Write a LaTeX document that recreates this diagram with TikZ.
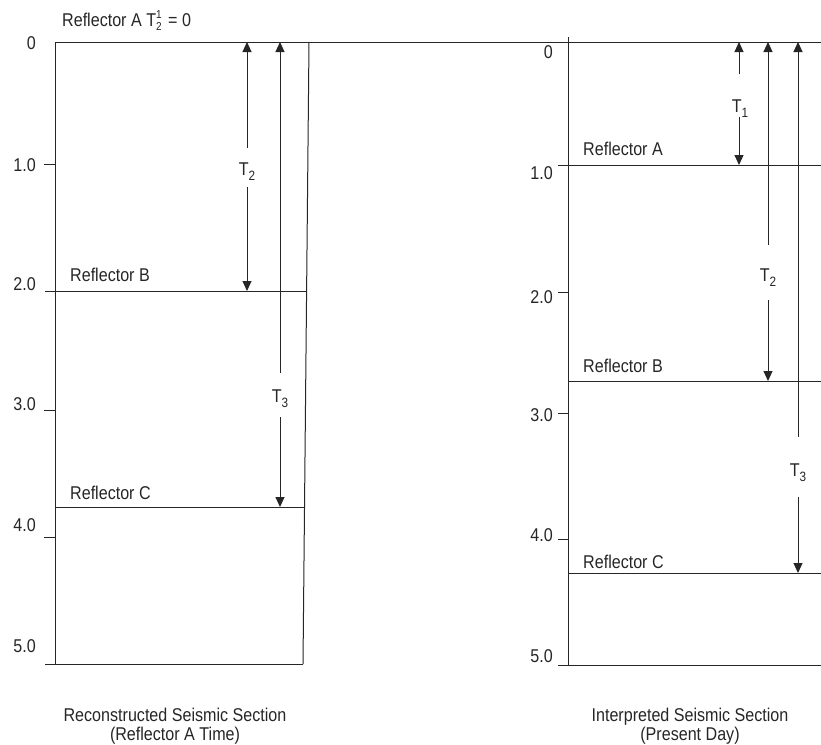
\documentclass[tikz,border=0pt]{standalone}
\usepackage{fontspec}
\setmainfont{Liberation Sans}[FakeStretch=0.87]
\usetikzlibrary{arrows.meta}
\begin{document}
\begin{tikzpicture}[x=1pt,y=-1pt,
  ln/.style={line width=1pt,draw=black!85},
  arr/.style={ln,-{Triangle[length=10pt,width=9pt]}},
  lbl/.style={font=\fontsize{18.5}{21}\selectfont,inner sep=0pt,text=black!85},
  axl/.style={lbl,anchor=east},
  refl/.style={lbl,anchor=base west},
  tlab/.style={lbl,anchor=base},
  captext/.style={lbl,anchor=base}]
\useasboundingbox (0,0) rectangle (821,744);
\newcommand{\Tsub}[1]{T\raisebox{-5pt}{\fontsize{13.5}{14}\selectfont #1}}
% ---------- left panel ----------
\coordinate (LTL) at (55,42);
\coordinate (LBL) at (55,664);
\coordinate (LTR) at (309,42);
\coordinate (LBR) at (303,664);
\coordinate (TopR) at (821,42);
\draw[ln] (LTL) -- (TopR);
\draw[ln] (LTL) -- (LBL);
\draw[ln] (LTR) -- (LBR);
\coordinate (LB0) at (45,664);
\draw[ln] (LB0) -- (LBR);
% reflectors
\coordinate (LRBa) at (45,291); \coordinate (LRBb) at (307,291);
\draw[ln] (LRBa) -- (LRBb);
\coordinate (LRCa) at (55,507); \coordinate (LRCb) at (305,507);
\draw[ln] (LRCa) -- (LRCb);
% ticks
\foreach \y in {164,410,537}{\draw[ln] (44,\y) -- (55,\y);}
% axis labels
\node[axl] (la0) at (36,43) {0};
\node[axl] (la1) at (36,165) {1.0};
\node[axl] (la2) at (36,284) {2.0};
\node[axl] (la3) at (36,404) {3.0};
\node[axl] (la4) at (36,525) {4.0};
\node[axl] (la5) at (36,646) {5.0};
% reflector labels
\node[refl] (title) at (62,26) {Reflector A T\raisebox{-4pt}{\fontsize{11.5}{12}\selectfont\shortstack[l]{1\\2}}\hspace{2pt} = 0};
\node[refl] (lrb) at (70,281) {Reflector B};
\node[refl] (lrc) at (70,499) {Reflector C};
% arrows left
\coordinate (LT2top) at (247,42); \coordinate (LT2g1) at (247,148);
\coordinate (LT2g2) at (247,187); \coordinate (LT2bot) at (247,291);
\node[tlab] (LT2) at (247,175) {\Tsub{2}};
\draw[arr] (LT2g1) -- (LT2top);
\draw[arr] (LT2g2) -- (LT2bot);
\coordinate (LT3top) at (280,42); \coordinate (LT3g1) at (280,373);
\coordinate (LT3g2) at (280,417); \coordinate (LT3bot) at (280,507);
\node[tlab] (LT3) at (280,402) {\Tsub{3}};
\draw[arr] (LT3g1) -- (LT3top);
\draw[arr] (LT3g2) -- (LT3bot);
% ---------- right panel ----------
\coordinate (RT) at (568,37);
\coordinate (RB) at (568,665);
\draw[ln] (RT) -- (RB);
\coordinate (RRAa) at (558,165); \coordinate (RRAb) at (821,165);
\draw[ln] (RRAa) -- (RRAb);
\coordinate (RRBa) at (568,381); \coordinate (RRBb) at (821,381);
\draw[ln] (RRBa) -- (RRBb);
\coordinate (RRCa) at (568,573); \coordinate (RRCb) at (821,573);
\draw[ln] (RRCa) -- (RRCb);
\coordinate (RBa) at (558,665); \coordinate (RBb) at (821,665);
\draw[ln] (RBa) -- (RBb);
\foreach \y in {292,413,539}{\draw[ln] (558,\y) -- (568,\y);}
\node[axl] (ra0) at (553,52) {0};
\node[axl] (ra1) at (553,173) {1.0};
\node[axl] (ra2) at (553,297) {2.0};
\node[axl] (ra3) at (553,415) {3.0};
\node[axl] (ra4) at (553,535) {4.0};
\node[axl] (ra5) at (553,656) {5.0};
\node[refl] (rra) at (583,155) {Reflector A};
\node[refl] (rrb) at (583,372) {Reflector B};
\node[refl] (rrc) at (583,568) {Reflector C};
% arrows right
\coordinate (RT1top) at (739,42); \coordinate (RT1g1) at (739,74);
\coordinate (RT1g2) at (739,117); \coordinate (RT1bot) at (739,165);
\node[tlab] (RT1) at (740,112) {\Tsub{1}};
\draw[arr] (RT1g1) -- (RT1top);
\draw[arr] (RT1g2) -- (RT1bot);
\coordinate (RT2top) at (768,42); \coordinate (RT2g1) at (768,245);
\coordinate (RT2g2) at (768,300); \coordinate (RT2bot) at (768,381);
\node[tlab] (RT2) at (768,281) {\Tsub{2}};
\draw[arr] (RT2g1) -- (RT2top);
\draw[arr] (RT2g2) -- (RT2bot);
\coordinate (RT3top) at (798,42); \coordinate (RT3g1) at (798,437);
\coordinate (RT3g2) at (798,497); \coordinate (RT3bot) at (798,573);
\node[tlab] (RT3) at (798,476) {\Tsub{3}};
\draw[arr] (RT3g1) -- (RT3top);
\draw[arr] (RT3g2) -- (RT3bot);
% captions
\node[captext] (capL1) at (175,721) {Reconstructed Seismic Section};
\node[captext] (capL2) at (175,740) {(Reflector A Time)};
\node[captext] (capR1) at (690,721) {Interpreted Seismic Section};
\node[captext] (capR2) at (690,740) {(Present Day)};
\end{tikzpicture}
\end{document}
